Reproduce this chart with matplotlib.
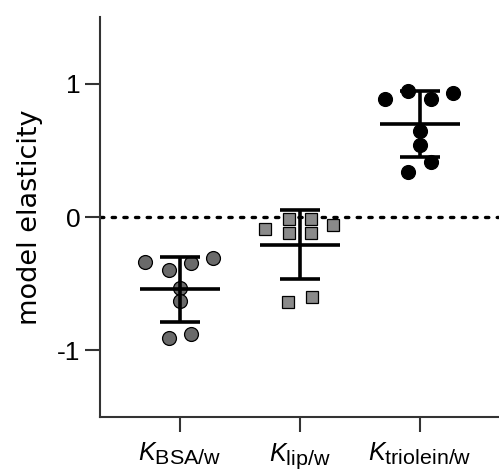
import numpy as np
import matplotlib
matplotlib.use("Agg")
import matplotlib.pyplot as plt
import matplotlib._mathtext as mathtext_impl

plt.rcParams["font.family"] = ["Liberation Sans", "DejaVu Sans"]
plt.rcParams["mathtext.fontset"] = "custom"
plt.rcParams["mathtext.rm"] = "Liberation Sans"
plt.rcParams["mathtext.it"] = "Liberation Sans:italic"
# subscripts only slightly smaller than the main symbol
mathtext_impl.SHRINK_FACTOR = 0.86

# Partition-coefficient elasticities (8 model runs each)
categories = [r"$K_{\mathrm{BSA/w}}$", r"$K_{\mathrm{lip/w}}$", r"$K_{\mathrm{triolein/w}}$"]
bsa_values = [-0.335, -0.394, -0.342, -0.305, -0.535, -0.632, -0.907, -0.877]
lip_values = [-0.087, -0.015, -0.120, -0.015, -0.120, -0.060, -0.640, -0.600]
triolein_values = [0.885, 0.944, 0.885, 0.929, 0.647, 0.543, 0.416, 0.335]
ytick_values = [-1, 0, 1]
ytick_labels = ["-1", "0", "1"]

# horizontal spread of the points within each column
bsa_offsets = [-0.29, -0.096, 0.092, 0.275, 0.0, 0.0, -0.092, 0.092]
lip_offsets = [-0.29, -0.092, -0.092, 0.092, 0.092, 0.275, -0.10, 0.10]
triolein_offsets = [-0.29, -0.10, 0.092, 0.275, 0.0, 0.0, 0.092, -0.10]

groups = [
    (bsa_values, bsa_offsets, "o", "#6a6a6a", 10.0),
    (lip_values, lip_offsets, "s", "#8a8a8a", 9.2),
    (triolein_values, triolein_offsets, "o", "#000000", 10.0),
]

fig = plt.figure(figsize=(4.99, 4.75), dpi=100)
ax = fig.add_axes([0.2004, 0.1221, 0.7996, 0.8421])

ax.axhline(0, color="black", lw=2.4, linestyle=(0, (1, 2.5)),
           dash_capstyle="round", zorder=1)

for i, (vals, offs, marker, color, ms) in enumerate(groups):
    vals = np.asarray(vals)
    xs = i + np.asarray(offs)
    ax.plot(xs, vals, linestyle="none", marker=marker, markersize=ms,
            markerfacecolor=color, markeredgecolor="black",
            markeredgewidth=0.9, zorder=2)
    mean = vals.mean()
    sd = vals.std(ddof=1)
    # mean line
    ax.plot([i - 0.333, i + 0.333], [mean, mean], color="black", lw=2.6,
            solid_capstyle="butt", zorder=3)
    # SD whisker and caps
    ax.plot([i, i], [mean - sd, mean + sd], color="black", lw=2.6,
            solid_capstyle="butt", zorder=3)
    for y in (mean - sd, mean + sd):
        ax.plot([i - 0.167, i + 0.167], [y, y], color="black", lw=2.6,
                solid_capstyle="butt", zorder=3)

ax.set_xlim(-0.667, 2.658)
ax.set_ylim(-1.5, 1.5)
ax.set_xticks(range(len(categories)))
ax.set_xticklabels(categories, fontsize=18)
ax.set_yticks(ytick_values)
ax.set_yticklabels(ytick_labels, fontsize=19)
ax.set_ylabel("model elasticity", fontsize=19.5, family="DejaVu Sans",
              labelpad=10)

for side in ("top", "right"):
    ax.spines[side].set_visible(False)
for side in ("left", "bottom"):
    ax.spines[side].set_linewidth(1.5)
    ax.spines[side].set_color("#333333")
ax.tick_params(axis="both", direction="out", length=11, width=1.5,
               color="#333333")
ax.tick_params(axis="y", pad=3)
ax.tick_params(axis="x", pad=6)

fig.savefig("out.png", dpi=100)
